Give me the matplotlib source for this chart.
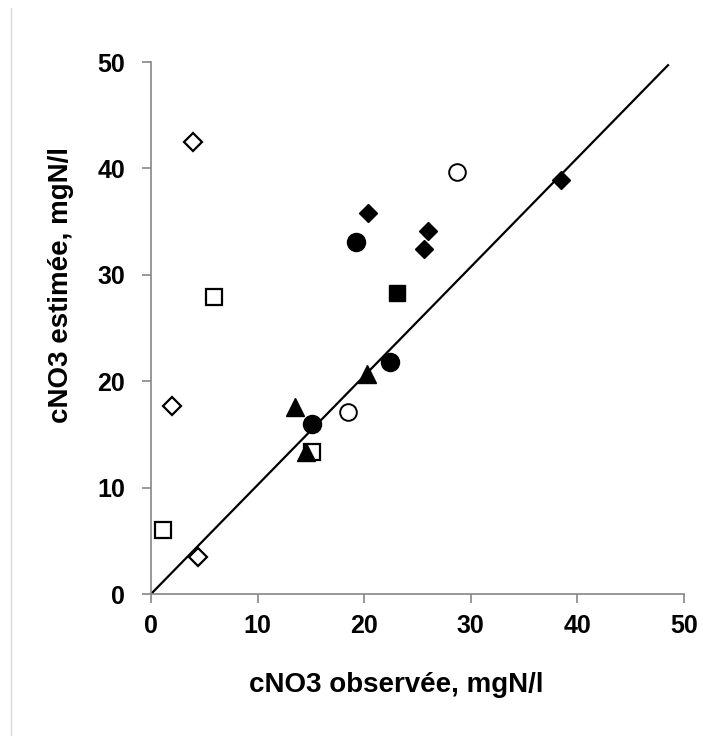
import matplotlib.pyplot as plt
from matplotlib.lines import Line2D

plt.rcParams['font.family'] = ['Liberation Sans', 'DejaVu Sans']

# observed (x) vs estimated (y) nitrate, mgN/l
open_diamond_x = [3.9, 2.0, 4.4]
open_diamond_y = [42.5, 17.7, 3.5]
open_square_x = [5.9, 1.1, 15.1]
open_square_y = [27.9, 6.0, 13.3]
open_circle_x = [28.7, 18.5]
open_circle_y = [39.7, 17.1]
filled_diamond_x = [20.4, 26.0, 25.6, 38.5]
filled_diamond_y = [35.8, 34.1, 32.4, 38.9]
filled_circle_x = [19.2, 22.4, 15.1]
filled_circle_y = [33.1, 21.8, 16.0]
filled_square_x = [23.1]
filled_square_y = [28.3]
filled_triangle_x = [13.5, 20.3, 14.5]
filled_triangle_y = [17.6, 20.7, 13.3]

# reference line
line_x = [0, 48.5]
line_y = [0, 49.7]

ticks = [0, 10, 20, 30, 40, 50]

fig = plt.figure(figsize=(7.03, 7.36), dpi=100)
ax = fig.add_axes([151 / 703, 1 - 594 / 736, 533 / 703, 532 / 736])

ax.plot(line_x, line_y, color='black', lw=1.6, zorder=1)

ax.plot(open_diamond_x, open_diamond_y, 'D', ms=9, mfc='white', mec='black', mew=1.6, ls='none')
ax.plot(open_square_x, open_square_y, 's', ms=11.5, mfc='white', mec='black', mew=1.6, ls='none')
ax.plot(open_circle_x, open_circle_y, 'o', ms=12, mfc='white', mec='black', mew=1.4, ls='none')
ax.plot(filled_diamond_x, filled_diamond_y, 'D', ms=9.5, color='black', ls='none')
ax.plot(filled_circle_x, filled_circle_y, 'o', ms=13, color='black', ls='none')
ax.plot(filled_square_x, filled_square_y, 's', ms=12, color='black', ls='none')
ax.plot(filled_triangle_x, filled_triangle_y, '^', ms=13, color='black', ls='none')

ax.set_xlim(0, 50)
ax.set_ylim(0, 50)
ax.set_xticks(ticks)
ax.set_yticks(ticks)

for s in ['top', 'right']:
    ax.spines[s].set_visible(False)
for s in ['left', 'bottom']:
    ax.spines[s].set_color('#868686')
    ax.spines[s].set_linewidth(1.2)

ax.tick_params(axis='both', direction='out', length=6.5, width=1.2, color='#868686',
               labelsize=18)
ax.tick_params(axis='y', pad=12)
ax.tick_params(axis='x', pad=8)
for lab in ax.get_xticklabels() + ax.get_yticklabels():
    lab.set_fontweight('bold')

ax.set_xlabel('cNO3 observée, mgN/l', fontsize=20, fontweight='bold')
ax.set_ylabel('cNO3 estimée, mgN/l', fontsize=20, fontweight='bold')
ax.xaxis.set_label_coords(0.46, -0.147)
ax.yaxis.set_label_coords(-0.145, 0.58)

# faint frame edge on the left of the picture
fig.add_artist(Line2D([11 / 703, 11 / 703], [0, 1 - 8 / 736], color='#d9d9d9', lw=1))

fig.savefig('out.png', dpi=100)
